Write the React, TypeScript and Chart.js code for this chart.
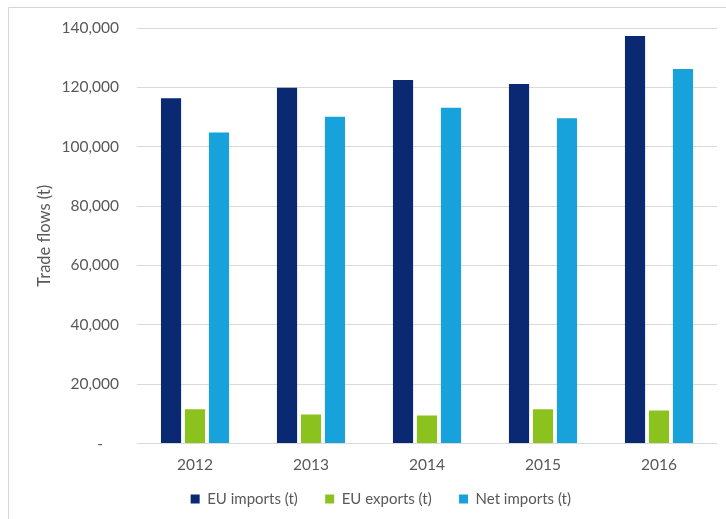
import React, { useEffect, useRef } from "react";
import { Chart, registerables } from "chart.js";

Chart.register(...registerables);

// Trade flows by year, in tonnes
const years = ["2012", "2013", "2014", "2015", "2016"];
const euImports = [116300, 119900, 122500, 121100, 137300];
const euExports = [11500, 9800, 9400, 11500, 11100];
const netImports = [104800, 110100, 113100, 109600, 126200];
const seriesNames = ["EU imports (t)", "EU exports (t)", "Net imports (t)"];
const yTicks = [0, 20000, 40000, 60000, 80000, 100000, 120000, 140000];
const yAxisTitle = "Trade flows (t)";

const FONT = "Lato, 'Open Sans', sans-serif";
const TEXT = "#595959";

// Frame lines and the rotated axis title
const decorPlugin = {
  id: "decor",
  beforeDraw(chart: Chart) {
    const { ctx } = chart;
    ctx.save();
    ctx.strokeStyle = "#d6d6d6";
    ctx.lineWidth = 1;
    ctx.beginPath();
    ctx.moveTo(8.5, chart.height);
    ctx.lineTo(8.5, 7.5);
    ctx.lineTo(chart.width, 7.5);
    ctx.stroke();
    ctx.restore();
  },
  afterDraw(chart: Chart) {
    const { ctx, chartArea } = chart;
    ctx.save();
    ctx.translate(45, (chartArea.top + chartArea.bottom) / 2);
    ctx.rotate(-Math.PI / 2);
    ctx.font = `16.5px ${FONT}`;
    ctx.fillStyle = TEXT;
    ctx.textAlign = "center";
    ctx.textBaseline = "middle";
    ctx.fillText(yAxisTitle, 0, 0);
    ctx.restore();
  },
};

export default function App() {
  const canvasRef = useRef<HTMLCanvasElement | null>(null);

  useEffect(() => {
    const canvas = canvasRef.current;
    if (!canvas) return;
    const defaultLabels = Chart.defaults.plugins.legend.labels.generateLabels;
    const chart = new Chart(canvas, {
      type: "bar",
      data: {
        labels: years,
        datasets: [
          { label: seriesNames[0], data: euImports, backgroundColor: "#0b2872" },
          { label: seriesNames[1], data: euExports, backgroundColor: "#8cc21e" },
          { label: seriesNames[2], data: netImports, backgroundColor: "#17a2dc" },
        ],
      },
      options: {
        responsive: false,
        animation: false,
        devicePixelRatio: 1,
        layout: { padding: { left: 60, right: 9, top: 28, bottom: 2.5 } },
        datasets: {
          bar: { categoryPercentage: 0.62, barPercentage: 0.84 },
        },
        scales: {
          x: {
            grid: { display: false, drawTicks: false },
            border: { display: false },
            ticks: { color: TEXT, font: { family: FONT, size: 15.5 }, padding: 12 },
            afterFit(scale: any) {
              scale.height = 36;
            },
          },
          y: {
            min: 0,
            max: 140000,
            afterBuildTicks(scale: any) {
              scale.ticks = yTicks.map((v) => ({ value: v }));
            },
            grid: { color: "#d9d9d9", drawTicks: false },
            border: { display: false },
            ticks: {
              color: TEXT,
              font: { family: FONT, size: 15.5 },
              padding: 18,
              callback: (v: any) =>
                Number(v) === 0 ? "-    " : Number(v).toLocaleString("en-US"),
            },
            afterFit(scale: any) {
              scale.width = 77;
            },
          },
        },
        plugins: {
          legend: {
            position: "bottom",
            labels: {
              color: TEXT,
              font: { family: FONT, size: 15 },
              boxWidth: 9,
              boxHeight: 9,
              padding: 12,
              // extra spacing after each entry
              generateLabels: (c: any) =>
                defaultLabels(c).map((item: any) => ({ ...item, text: item.text + "    " })),
            },
          },
          tooltip: { enabled: false },
        },
      },
      plugins: [decorPlugin],
    });
    return () => chart.destroy();
  }, []);

  return (
    <div style={{ position: "fixed", left: 0, top: 0, width: 726, height: 519, background: "#fff" }}>
      <canvas ref={canvasRef} width={726} height={519} />
    </div>
  );
}
